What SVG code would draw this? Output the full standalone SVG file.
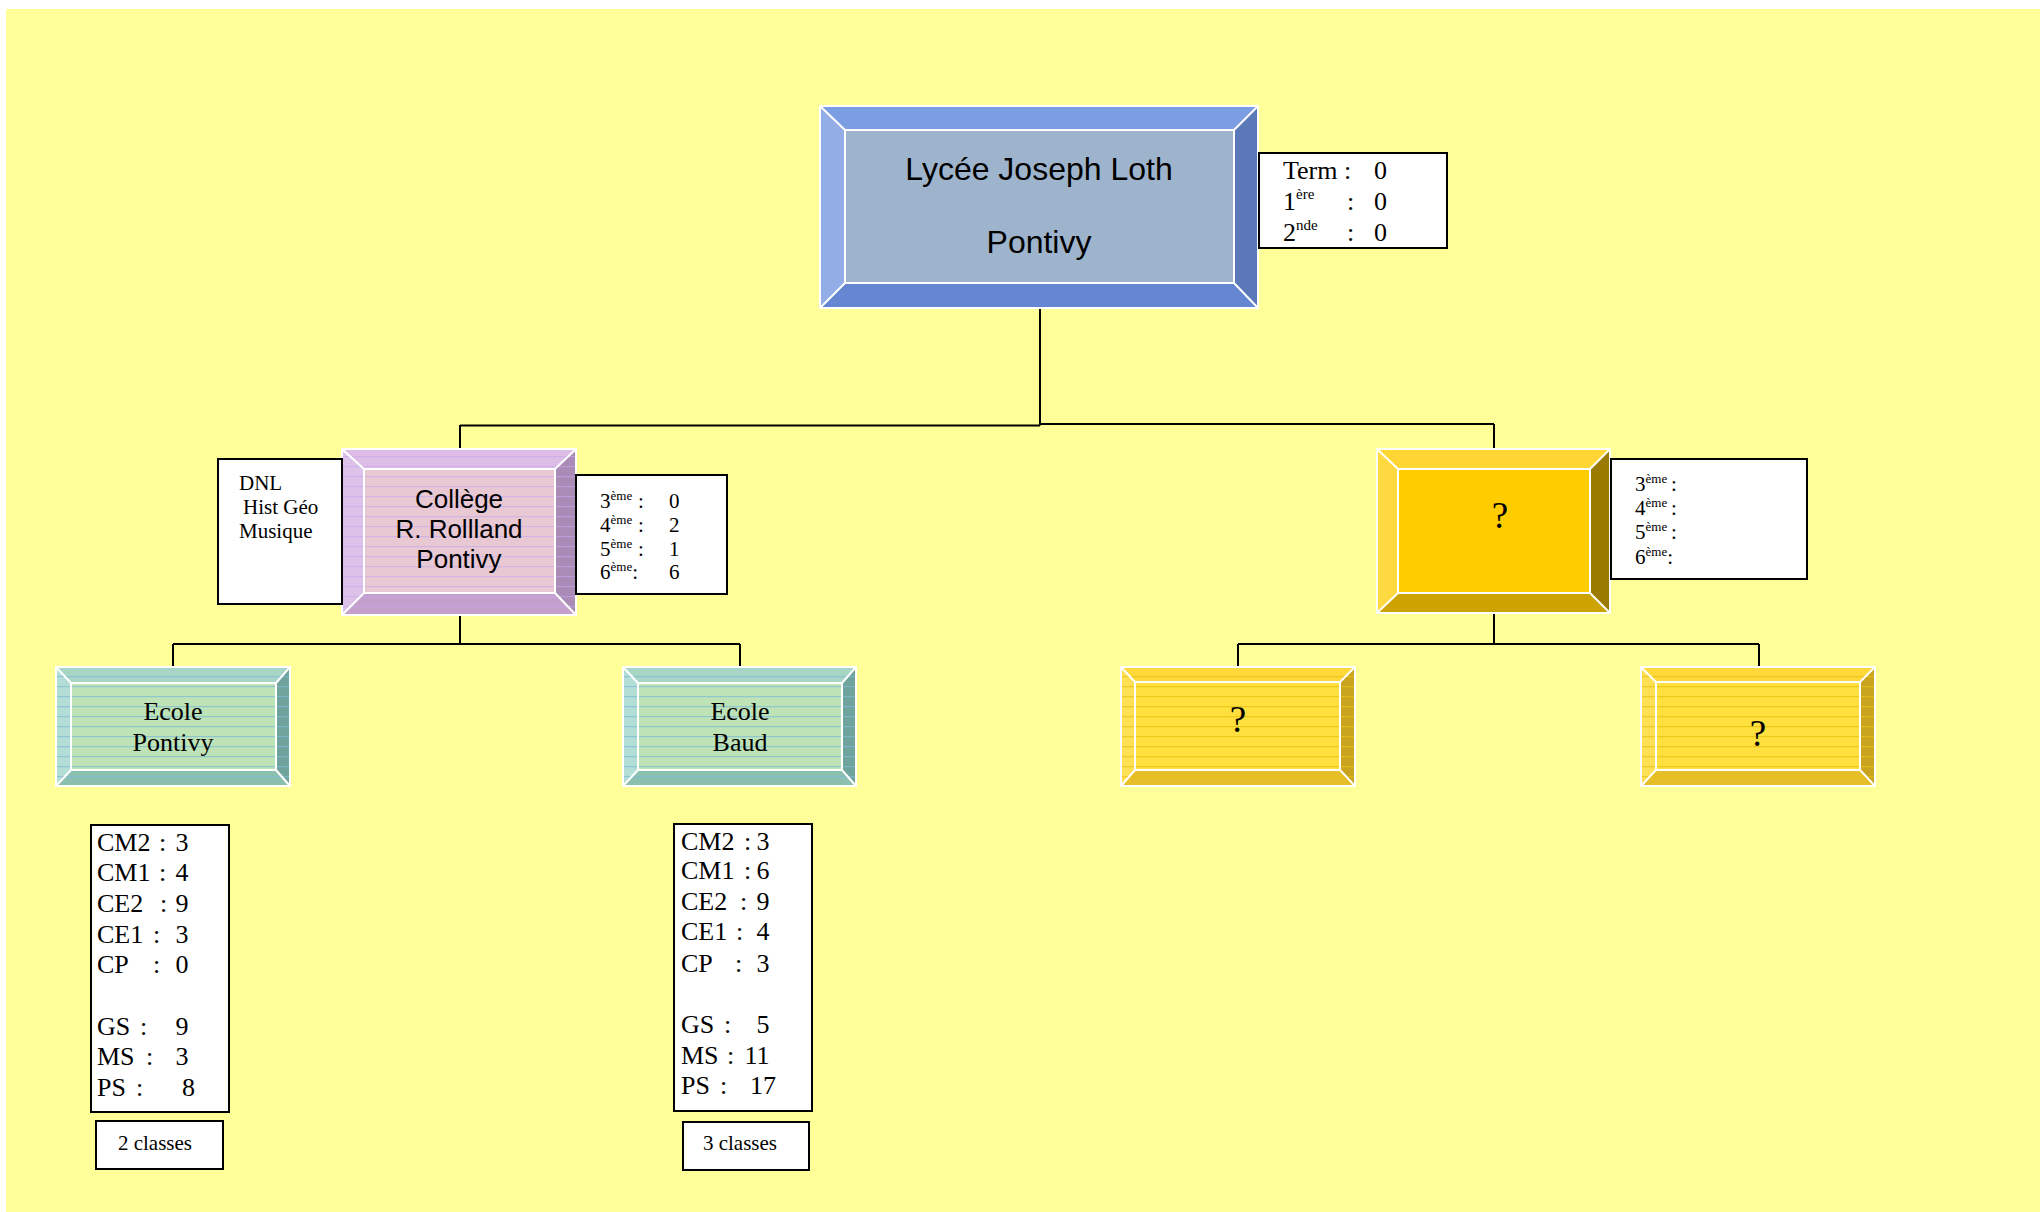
<svg xmlns="http://www.w3.org/2000/svg" width="2040" height="1212" viewBox="0 0 2040 1212">
<defs>
<style>
.edge{stroke:#000;stroke-width:2;fill:none}
.bev{stroke:#fff;stroke-width:2;fill:none;stroke-linejoin:miter}
.box{fill:#fff;stroke:#000;stroke-width:2}
.sans{font-family:"Liberation Sans",Arial,sans-serif;fill:#000}
.serif{font-family:"Liberation Serif","Times New Roman",serif;fill:#000}
</style>
<pattern id="stTeal" width="10" height="10" patternUnits="userSpaceOnUse"><rect x="0" y="6" width="10" height="1.2" fill="#7DBAD6" opacity="0.7"/></pattern>
<pattern id="stPurple" width="10" height="10" patternUnits="userSpaceOnUse"><rect x="0" y="6" width="10" height="1.2" fill="#C7A6EE" opacity="0.6"/></pattern>
<pattern id="stYellow" width="10" height="10" patternUnits="userSpaceOnUse"><rect x="0" y="6" width="10" height="1.3" fill="#E8C010" opacity="0.7"/></pattern>
</defs>
<rect x="0" y="0" width="2040" height="1212" fill="#ffffff"/>
<rect x="6" y="9" width="2034" height="1203" fill="#FFFF99"/>

<g id="connectors">
<path class="edge" d="M1040,308 V425.5"/>
<path class="edge" d="M460,425.5 H1040"/>
<path class="edge" d="M1040,424 H1494"/>
<path class="edge" d="M460,425 V449"/>
<path class="edge" d="M1494,424 V449"/>
<path class="edge" d="M460,615 V644 M173,644 H740 M173,644 V667 M740,644 V667"/>
<path class="edge" d="M1494,613 V644 M1238,644 H1759 M1238,644 V667 M1759,644 V667"/>
</g>

<g id="lycee">
<polygon points="820,106 1258,106 1234,130 845,130" fill="#7C9DE2"/>
<polygon points="1258,106 1258,308 1234,283 1234,130" fill="#5B79B9"/>
<polygon points="1258,308 820,308 845,283 1234,283" fill="#6587D1"/>
<polygon points="820,308 820,106 845,130 845,283" fill="#93ADE7"/>
<rect x="845" y="130" width="389" height="153" fill="#9EB4CC"/>
<path class="bev" d="M820,106 H1258 V308 H820 Z M845,130 H1234 V283 H845 Z M820,106 L845,130 M1258,106 L1234,130 M1258,308 L1234,283 M820,308 L845,283"/>
<text class="sans" x="1039" y="180" font-size="32" text-anchor="middle">Lycée Joseph Loth</text>
<text class="sans" x="1039" y="253" font-size="32" text-anchor="middle">Pontivy</text>
</g>
<g id="lycee-stats">
<rect class="box" x="1259" y="153" width="188" height="95"/>
<text class="serif" font-size="26"><tspan x="1283" y="179">Term :</tspan><tspan x="1374" y="179">0</tspan></text>
<text class="serif" font-size="26"><tspan x="1283" y="210">1</tspan><tspan dy="-11" font-size="15">ère</tspan><tspan x="1347" y="210">:</tspan><tspan x="1374" y="210">0</tspan></text>
<text class="serif" font-size="26"><tspan x="1283" y="241">2</tspan><tspan dy="-11" font-size="15">nde</tspan><tspan x="1347" y="241">:</tspan><tspan x="1374" y="241">0</tspan></text>
</g>

<g id="college">
<polygon points="342,449 576,449 555,469 364,469" fill="#DDBDE6"/>
<polygon points="576,449 576,615 555,593 555,469" fill="#A98BB6"/>
<polygon points="576,615 342,615 364,593 555,593" fill="#C4A0CC"/>
<polygon points="342,615 342,449 364,469 364,593" fill="#DCC2E9"/>
<rect x="364" y="469" width="191" height="124" fill="#E7C8D3"/>
<rect x="342" y="449" width="234" height="166" fill="url(#stPurple)"/>
<path class="bev" d="M342,449 H576 V615 H342 Z M364,469 H555 V593 H364 Z M342,449 L364,469 M576,449 L555,469 M576,615 L555,593 M342,615 L364,593"/>
<text class="sans" font-size="26" text-anchor="middle"><tspan x="459" y="508">Collège</tspan><tspan x="459" y="538">R. Rollland</tspan><tspan x="459" y="568">Pontivy</tspan></text>
</g>
<g id="college-dnl">
<rect class="box" x="218" y="459" width="124" height="145"/>
<text class="serif" font-size="21"><tspan x="239" y="490">DNL</tspan><tspan x="243" y="514">Hist Géo</tspan><tspan x="239" y="538">Musique</tspan></text>
</g>
<g id="college-stats">
<rect class="box" x="576" y="475" width="151" height="119"/>
<text class="serif" font-size="21"><tspan x="600" y="508">3</tspan><tspan dy="-8" font-size="13">ème</tspan><tspan x="638" y="508">:</tspan><tspan x="669" y="508">0</tspan></text>
<text class="serif" font-size="21"><tspan x="600" y="532">4</tspan><tspan dy="-8" font-size="13">ème</tspan><tspan x="638" y="532">:</tspan><tspan x="669" y="532">2</tspan></text>
<text class="serif" font-size="21"><tspan x="600" y="556">5</tspan><tspan dy="-8" font-size="13">ème</tspan><tspan x="638" y="556">:</tspan><tspan x="669" y="556">1</tspan></text>
<text class="serif" font-size="21"><tspan x="600" y="579">6</tspan><tspan dy="-8" font-size="13">ème</tspan><tspan dy="8">:</tspan><tspan x="669" y="579">6</tspan></text>
</g>

<g id="unknown-college">
<polygon points="1377,449 1610,449 1590,469 1398,469" fill="#FFD633"/>
<polygon points="1610,449 1610,613 1590,593 1590,469" fill="#9A7A00"/>
<polygon points="1610,613 1377,613 1398,593 1590,593" fill="#CCA300"/>
<polygon points="1377,613 1377,449 1398,469 1398,593" fill="#FFD940"/>
<rect x="1398" y="469" width="192" height="124" fill="#FFCC00"/>
<path class="bev" d="M1377,449 H1610 V613 H1377 Z M1398,469 H1590 V593 H1398 Z M1377,449 L1398,469 M1610,449 L1590,469 M1610,613 L1590,593 M1377,613 L1398,593"/>
<text class="serif" x="1500" y="528" font-size="37" text-anchor="middle">?</text>
</g>
<g id="unknown-college-stats">
<rect class="box" x="1611" y="459" width="196" height="120"/>
<text class="serif" font-size="21"><tspan x="1635" y="491">3</tspan><tspan dy="-8" font-size="13">ème</tspan><tspan x="1671" y="491">:</tspan></text>
<text class="serif" font-size="21"><tspan x="1635" y="515">4</tspan><tspan dy="-8" font-size="13">ème</tspan><tspan x="1671" y="515">:</tspan></text>
<text class="serif" font-size="21"><tspan x="1635" y="539">5</tspan><tspan dy="-8" font-size="13">ème</tspan><tspan x="1671" y="539">:</tspan></text>
<text class="serif" font-size="21"><tspan x="1635" y="564">6</tspan><tspan dy="-8" font-size="13">ème</tspan><tspan dy="8">:</tspan></text>
</g>

<g id="ecole-pontivy">
<polygon points="56,667 290,667 276,683 71,683" fill="#A7D5C6"/>
<polygon points="290,667 290,786 276,770 276,683" fill="#6FA39B"/>
<polygon points="290,786 56,786 71,770 276,770" fill="#8BC0B1"/>
<polygon points="56,786 56,667 71,683 71,770" fill="#B3DED6"/>
<rect x="71" y="683" width="205" height="87" fill="#BDE3B7"/>
<rect x="56" y="667" width="234" height="119" fill="url(#stTeal)"/>
<path class="bev" d="M56,667 H290 V786 H56 Z M71,683 H276 V770 H71 Z M56,667 L71,683 M290,667 L276,683 M290,786 L276,770 M56,786 L71,770"/>
<text class="serif" font-size="26" text-anchor="middle"><tspan x="173" y="720">Ecole</tspan><tspan x="173" y="751">Pontivy</tspan></text>
</g>
<g id="ecole-pontivy-stats">
<rect class="box" x="91" y="825" width="138" height="287"/>
<text class="serif" font-size="26">
<tspan x="97" y="851">CM2</tspan><tspan x="159" y="851">:</tspan><tspan x="195" y="851" text-anchor="end">3</tspan>
<tspan x="97" y="881">CM1</tspan><tspan x="159" y="881">:</tspan><tspan x="195" y="881" text-anchor="end">4</tspan>
<tspan x="97" y="912">CE2</tspan><tspan x="160" y="912">:</tspan><tspan x="195" y="912" text-anchor="end">9</tspan>
<tspan x="97" y="943">CE1</tspan><tspan x="153" y="943">:</tspan><tspan x="195" y="943" text-anchor="end">3</tspan>
<tspan x="97" y="973">CP</tspan><tspan x="153" y="973">:</tspan><tspan x="195" y="973" text-anchor="end">0</tspan>
<tspan x="97" y="1035">GS</tspan><tspan x="140" y="1035">:</tspan><tspan x="195" y="1035" text-anchor="end">9</tspan>
<tspan x="97" y="1065">MS</tspan><tspan x="146" y="1065">:</tspan><tspan x="195" y="1065" text-anchor="end">3</tspan>
<tspan x="97" y="1096">PS</tspan><tspan x="136" y="1096">:</tspan><tspan x="195" y="1096" text-anchor="end">8</tspan>
</text>
<rect class="box" x="96" y="1121" width="127" height="48"/>
<text class="serif" x="155" y="1150" font-size="21" text-anchor="middle">2 classes</text>
</g>

<g id="ecole-baud">
<polygon points="623,667 856,667 842,683 638,683" fill="#A7D5C6"/>
<polygon points="856,667 856,786 842,770 842,683" fill="#6FA39B"/>
<polygon points="856,786 623,786 638,770 842,770" fill="#8BC0B1"/>
<polygon points="623,786 623,667 638,683 638,770" fill="#B3DED6"/>
<rect x="638" y="683" width="204" height="87" fill="#BDE3B7"/>
<rect x="623" y="667" width="233" height="119" fill="url(#stTeal)"/>
<path class="bev" d="M623,667 H856 V786 H623 Z M638,683 H842 V770 H638 Z M623,667 L638,683 M856,667 L842,683 M856,786 L842,770 M623,786 L638,770"/>
<text class="serif" font-size="26" text-anchor="middle"><tspan x="740" y="720">Ecole</tspan><tspan x="740" y="751">Baud</tspan></text>
</g>
<g id="ecole-baud-stats">
<rect class="box" x="674" y="824" width="138" height="287"/>
<text class="serif" font-size="26">
<tspan x="681" y="850">CM2</tspan><tspan x="744" y="850">:</tspan><tspan x="776" y="850" text-anchor="end">3</tspan>
<tspan x="681" y="879">CM1</tspan><tspan x="744" y="879">:</tspan><tspan x="776" y="879" text-anchor="end">6</tspan>
<tspan x="681" y="910">CE2</tspan><tspan x="740" y="910">:</tspan><tspan x="776" y="910" text-anchor="end">9</tspan>
<tspan x="681" y="940">CE1</tspan><tspan x="736" y="940">:</tspan><tspan x="776" y="940" text-anchor="end">4</tspan>
<tspan x="681" y="972">CP</tspan><tspan x="735" y="972">:</tspan><tspan x="776" y="972" text-anchor="end">3</tspan>
<tspan x="681" y="1033">GS</tspan><tspan x="724" y="1033">:</tspan><tspan x="776" y="1033" text-anchor="end">5</tspan>
<tspan x="681" y="1064">MS</tspan><tspan x="727" y="1064">:</tspan><tspan x="776" y="1064" text-anchor="end">11</tspan>
<tspan x="681" y="1094">PS</tspan><tspan x="720" y="1094">:</tspan><tspan x="776" y="1094" text-anchor="end">17</tspan>
</text>
<rect class="box" x="683" y="1122" width="126" height="48"/>
<text class="serif" x="740" y="1150" font-size="21" text-anchor="middle">3 classes</text>
</g>

<g id="unknown-school-1">
<polygon points="1121,667 1355,667 1340,682 1135,682" fill="#FFD83A"/>
<polygon points="1355,667 1355,786 1340,770 1340,682" fill="#C9A51F"/>
<polygon points="1355,786 1121,786 1135,770 1340,770" fill="#E5BE2A"/>
<polygon points="1121,786 1121,667 1135,682 1135,770" fill="#FFE055"/>
<rect x="1135" y="682" width="205" height="88" fill="#FFE03E"/>
<rect x="1121" y="667" width="234" height="119" fill="url(#stYellow)"/>
<path class="bev" d="M1121,667 H1355 V786 H1121 Z M1135,682 H1340 V770 H1135 Z M1121,667 L1135,682 M1355,667 L1340,682 M1355,786 L1340,770 M1121,786 L1135,770"/>
<text class="serif" x="1238" y="732" font-size="37" text-anchor="middle">?</text>
</g>

<g id="unknown-school-2">
<polygon points="1641,667 1875,667 1860,682 1656,682" fill="#FFD83A"/>
<polygon points="1875,667 1875,786 1860,770 1860,682" fill="#C9A51F"/>
<polygon points="1875,786 1641,786 1656,770 1860,770" fill="#E5BE2A"/>
<polygon points="1641,786 1641,667 1656,682 1656,770" fill="#FFE055"/>
<rect x="1656" y="682" width="204" height="88" fill="#FFE03E"/>
<rect x="1641" y="667" width="234" height="119" fill="url(#stYellow)"/>
<path class="bev" d="M1641,667 H1875 V786 H1641 Z M1656,682 H1860 V770 H1656 Z M1641,667 L1656,682 M1875,667 L1860,682 M1875,786 L1860,770 M1641,786 L1656,770"/>
<text class="serif" x="1758" y="746" font-size="37" text-anchor="middle">?</text>
</g>
</svg>
